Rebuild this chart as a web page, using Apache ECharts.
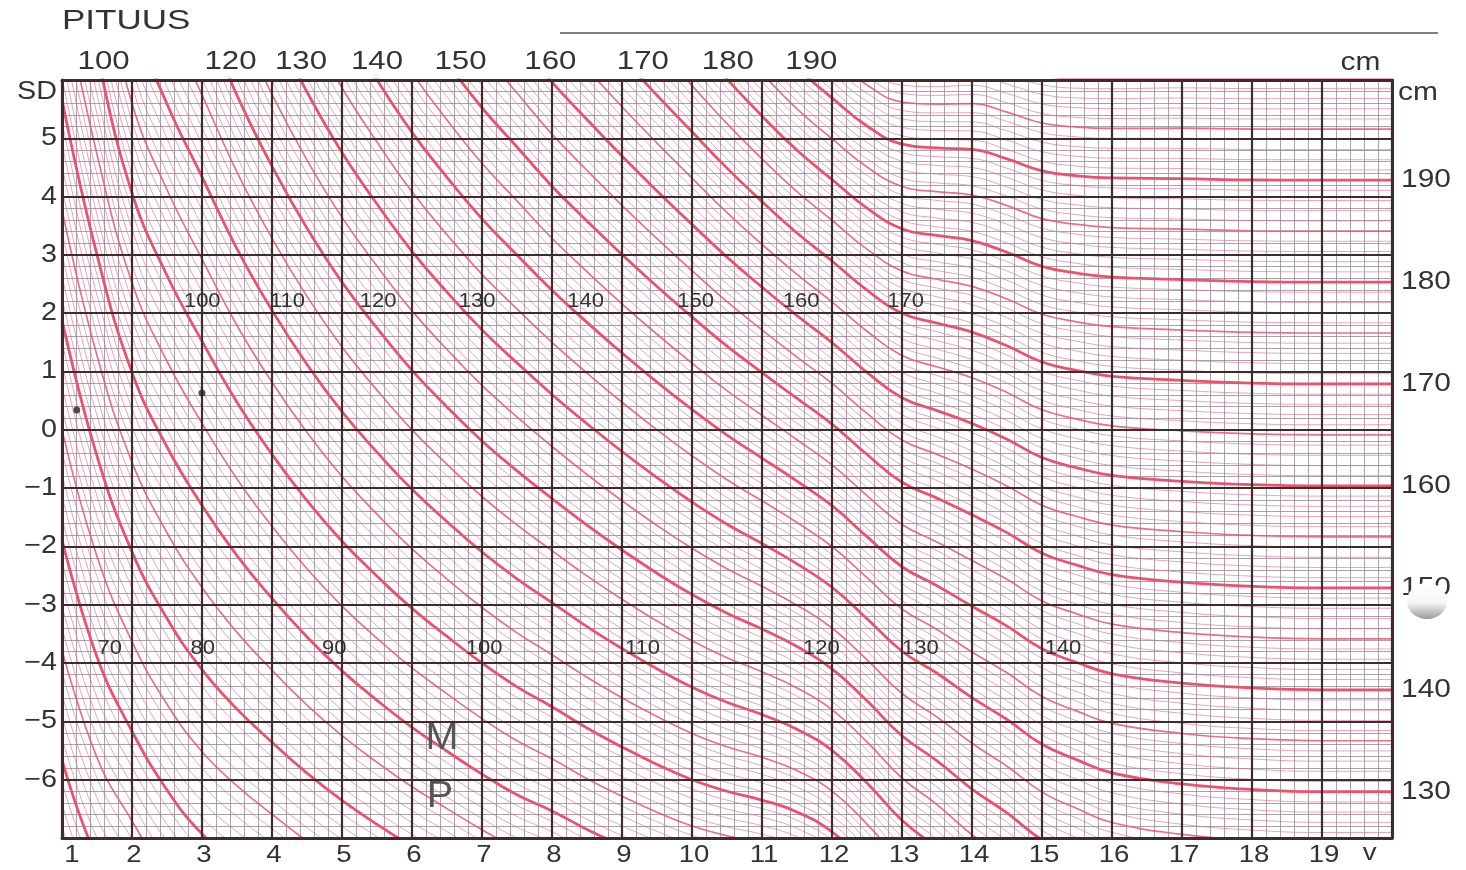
<!DOCTYPE html>
<html><head><meta charset="utf-8">
<script src="https://cdn.jsdelivr.net/npm/echarts@6/dist/echarts.min.js"></script>
<style>html,body{margin:0;padding:0;background:#fff}#c{width:1466px;height:870px}</style>
</head><body><div id="c"></div>
<script>
// Reference table: age (years), mean height (cm), SD (cm)
const ages =       [1,   1.5,  2,   2.5,  3,    3.5,  4,    4.5,  5,    5.5,  6,    6.5,  7,    7.5,  8,    8.5,  9,    9.5,  10,   10.5, 11,   11.5, 12,   12.5, 13,   13.5, 14,   14.5, 15,   15.5, 16,   17,   18,   19,   20];
const meanHeight = [75.0,81.3, 86.8,91.0, 94.6, 98.2, 101.7,105.2,108.6,111.8,115.0,118.0,121.0,123.8,126.6,129.4,132.2,135.0,137.8,140.6,143.3,146.2,149.3,153.0,156.2,157.8,159.3,161.0,162.9,163.9,164.6,165.1,165.4,165.5,165.5];
const sdHeight =   [2.65,2.9,  3.25,3.4,  3.55, 3.8,  4.05, 4.28, 4.5,  4.7,  4.9,  5.08, 5.25, 5.4,  5.6,  5.75, 5.92, 6.1,  6.3,  6.55, 6.82, 7.05, 7.15, 7.1,  6.9,  6.66, 6.38, 6.24, 6.1,  5.99, 5.88, 5.78, 5.74, 5.72, 5.72];

const heightMin = 55, heightMax = 202;           // cm isolines drawn every 1 cm
const xTickValues = [1,2,3,4,5,6,7,8,9,10,11,12,13,14,15,16,17,18,19];
const sdTickValues = [5,4,3,2,1,0,-1,-2,-3,-4,-5,-6];
const topCmLabels = [100,120,130,140,150,160,170,180,190];
const rightCmLabels = [130,140,150,160,170,180,190];
const upperCurveLabels = [100,110,120,130,140,150,160,170];
const lowerCurveLabels = [70,80,90,100,110,120,130,140];
const markedPoints = [[1.21,0.34],[3.0,0.63]];

const chart = echarts.init(document.getElementById('c'));
const GRID = {left:62, right:74, top:80, bottom:32};
const dark = '#3c2c2a';

function zAt(h, i){ return (h - meanHeight[i]) / sdHeight[i]; }
function crossAge(h, z0){
  for (let i=0;i<ages.length-1;i++){
    const a=zAt(h,i), b=zAt(h,i+1);
    if ((a>=z0 && b<z0) || (a<=z0 && b>z0)) return ages[i] + (a-z0)/(a-b)*(ages[i+1]-ages[i]);
  }
  return null;
}

const series = [];
for (let h=heightMin; h<=heightMax; h++){
  const ten = h%10===0, five = h%5===0;
  series.push({
    type:'line', xAxisIndex:0, yAxisIndex:0, silent:true, animation:false,
    data: ages.map((a,i)=>[a, zAt(h,i)]),
    smooth:0.45, showSymbol:false, clip:true,
    lineStyle:{color: ten ? '#ea526f' : (five ? 'rgba(232,86,118,0.85)' : 'rgba(212,110,158,0.62)'),
               width: ten ? 2.8 : (five ? 1.7 : 1)},
    z: ten ? 4 : (five ? 3 : 2)
  });
}
series.push({type:'scatter', xAxisIndex:0, yAxisIndex:0, data:markedPoints, symbolSize:7, itemStyle:{color:'#262626'}, z:10, silent:true});

const hidden = {axisLabel:{show:false}, axisTick:{show:false}};
chart.setOption({
  animation:false,
  grid:{...GRID},
  xAxis:[
    {type:'value', min:1, max:20, interval:1, ...hidden, axisLine:{show:false},
     splitLine:{show:false}, minorTick:{show:false, splitNumber:5},
     minorSplitLine:{show:true, lineStyle:{color:'#958a8e', width:0.8}}, z:1},
    {type:'value', min:1, max:20, interval:1, ...hidden, position:'bottom',
     axisLine:{show:true, onZero:false, lineStyle:{color:dark, width:3}},
     splitLine:{show:true, lineStyle:{color:dark, width:2.2}}, z:6},
    {type:'value', min:1, max:20, interval:1, ...hidden, position:'top',
     axisLine:{show:true, onZero:false, lineStyle:{color:dark, width:3}}, splitLine:{show:false}, z:6}
  ],
  yAxis:[
    {type:'value', min:-7, max:6, interval:1, ...hidden, axisLine:{show:false},
     splitLine:{show:false}, minorTick:{show:false, splitNumber:5},
     minorSplitLine:{show:true, lineStyle:{color:'#958a8e', width:0.8}}, z:1},
    {type:'value', min:-7, max:6, interval:1, ...hidden, position:'left',
     axisLine:{show:true, onZero:false, lineStyle:{color:dark, width:3}},
     splitLine:{show:true, lineStyle:{color:dark, width:2.2}}, z:6},
    {type:'value', min:-7, max:6, interval:1, ...hidden, position:'right',
     axisLine:{show:true, onZero:false, lineStyle:{color:dark, width:3}}, splitLine:{show:false}, z:6}
  ],
  series
});

const P = (a,z)=>chart.convertToPixel({gridIndex:0},[a,z]);
const FF = '"Liberation Sans", Arial, sans-serif';
const g = [];
function txt(text, x, y, size, opts={}){
  g.push({type:'text', x, y, scaleX: opts.sx||1.18, z:20, silent:true,
    style:{text, font: size+'px '+FF, fill: opts.fill||'#333', align: opts.align||'center', verticalAlign:'middle'}});
}
txt('PITUUS', 62, 21, 28, {align:'left', sx:1.25});
g.push({type:'line', shape:{x1:560,y1:33,x2:1438,y2:33}, style:{stroke:'#555', lineWidth:1.4}, z:20, silent:true});
sdTickValues.forEach(v=>{ const p=P(1,v); txt(v<0?('\u2212'+(-v)):String(v), p[0]-5, p[1], 25, {align:'right', sx:1.15}); });
txt('SD', P(1,5.8)[0]-5, P(1,5.8)[1], 25, {align:'right', sx:1.15});
xTickValues.forEach(v=>{ const p=P(v,-7); txt(String(v), p[0] + (v===1?10:2), p[1]+17, 24, {sx:1.15}); });
txt('v', P(19.68,-7)[0], P(19.68,-7)[1]+15, 24, {sx:1.15});
topCmLabels.forEach(h=>{ const a=crossAge(h,6); if(a!==null){ const p=P(a,6); txt(String(h), p[0], 62, 26, {sx:1.2}); }});
txt('cm', P(19.55,6)[0], 63, 26, {sx:1.15});
const last = ages.length-1;
rightCmLabels.forEach(h=>{ const p=P(20,(h-meanHeight[last])/sdHeight[last]); txt(String(h), p[0]+34, p[1], 26, {sx:1.15}); });
txt('cm', P(20,5.8)[0]+26, P(20,5.8)[1]+1, 26, {sx:1.15});
upperCurveLabels.forEach(h=>{ const a=crossAge(h,2.2); if(a!==null){ const p=P(a,2.2); txt(String(h), p[0]+3, p[1], 20, {align:'left', sx:1.1}); }});
lowerCurveLabels.forEach(h=>{ const a=crossAge(h,-3.75); if(a!==null){ const p=P(a,-3.75); txt(String(h), p[0]+3, p[1], 20, {align:'left', sx:1.1}); }});
txt('M', P(6.43,-5.3)[0], P(6.43,-5.3)[1], 36, {fill:'#555', sx:1.1});
txt('P', P(6.4,-6.3)[0], P(6.4,-6.3)[1], 36, {fill:'#555', sx:1.1});
g.push({type:'ellipse', shape:{cx:1427, cy:601, rx:20, ry:18}, z:30, silent:true,
  style:{fill:new echarts.graphic.LinearGradient(0,0,0,1,[{offset:0,color:'#ffffff'},{offset:0.55,color:'#f6f6f6'},{offset:1,color:'#9a9a9a'}])}});
chart.setOption({graphic:g});
</script></body></html>
